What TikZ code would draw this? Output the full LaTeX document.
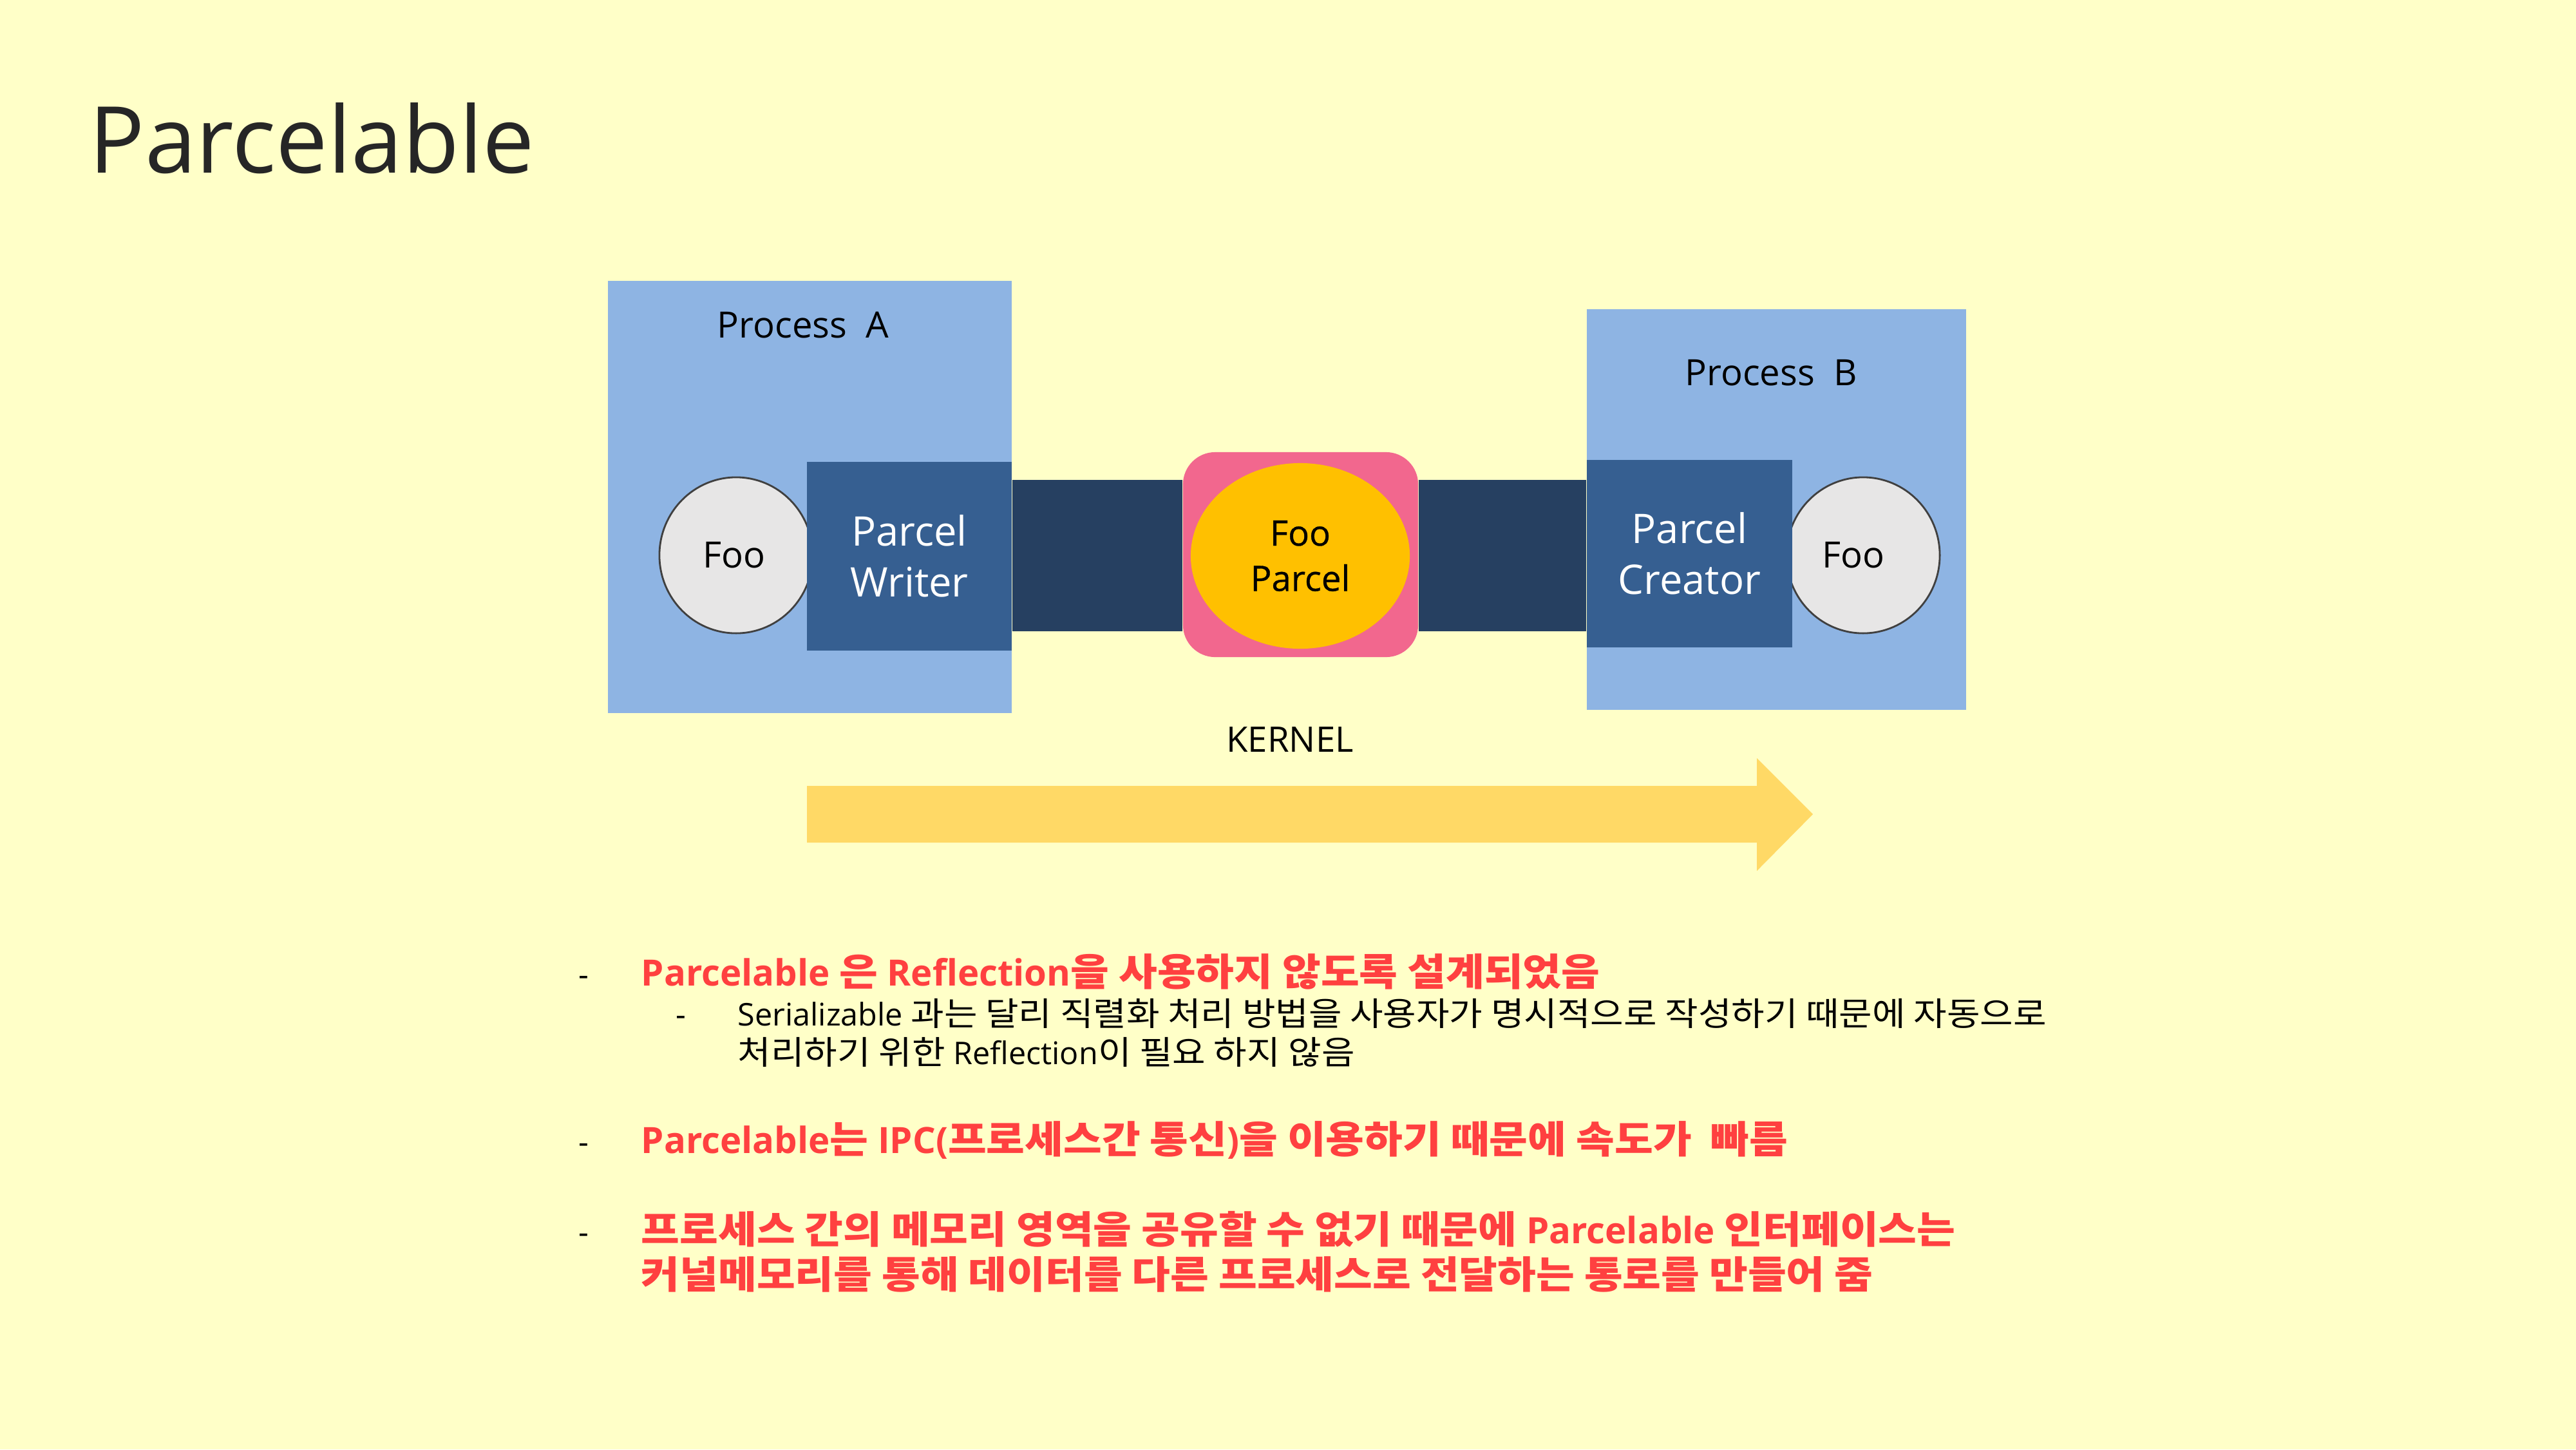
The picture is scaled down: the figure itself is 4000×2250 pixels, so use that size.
\documentclass[tikz,border=0pt]{standalone}
\usepackage{fontspec}
\setmainfont{Open Sans}
\newfontfamily\kr[Scale=1.05,FakeStretch=1.1]{Noto Sans CJK KR}
\newfontfamily\osmed[FakeBold=0.6]{Open Sans}
\usetikzlibrary{positioning}
\definecolor{bgc}{RGB}{255,255,200}
\definecolor{procc}{RGB}{142,180,227}
\definecolor{parcc}{RGB}{54,95,145}
\definecolor{connc}{RGB}{38,64,97}
\definecolor{pinkc}{RGB}{242,103,142}
\definecolor{yelc}{RGB}{255,192,0}
\definecolor{arrc}{RGB}{255,217,102}
\definecolor{fooc}{RGB}{231,230,230}
\definecolor{fooline}{RGB}{64,64,64}
\definecolor{redc}{RGB}{255,64,64}
\definecolor{titlec}{RGB}{38,38,38}
\tikzset{
  procbox/.style={rectangle,fill=procc,inner sep=0pt},
  parcbox/.style={rectangle,fill=parcc,inner sep=0pt,text=white,align=center,font={\fontsize{18}{22.5}\selectfont}},
  fooell/.style={ellipse,fill=fooc,draw=fooline,line width=0.8pt,inner sep=0pt,font={\fontsize{16}{20}\selectfont}},
  lbl/.style={inner sep=0pt,font={\fontsize{16}{20}\selectfont}},
  bar/.style={draw=connc,line width=2.35cm},
  redline/.style={anchor=base west,inner sep=0pt,text=redc,font={\fontsize{16}{20}\bfseries\selectfont}},
  subline/.style={anchor=base west,inner sep=0pt,text=black,font={\fontsize{13.8}{17}\selectfont}},
  bul/.style={anchor=base west,inner sep=0pt,font={\fontsize{14}{17}\selectfont}},
}
\usetikzlibrary{shapes.geometric}
\begin{document}
\begin{tikzpicture}[x=0.01cm,y=-0.01cm]
\fill[bgc] (0,0) rectangle (4000,2250);
\useasboundingbox (0,0) rectangle (4000,2250);
% title
\node[anchor=base west,inner sep=0pt,text=titlec,font={\fontsize{40.8}{48}\selectfont}] (title) at (138,268) {Parcelable};
% process boxes
\node[procbox,minimum width=6.27cm,minimum height=6.71cm] (pa) at (1257.5,771.5) {};
\node[procbox,minimum width=5.89cm,minimum height=6.22cm] (pb) at (2758.5,791) {};
\node[lbl] (pat) at (1247,505) {Process\ \ A};
\node[lbl] (pbt) at (2750,579) {Process\ \ B};
% foo ellipses
\node[fooell,minimum width=2.38cm,minimum height=2.42cm] (fooA) at (1143,862) {};
\node[fooell,minimum width=2.38cm,minimum height=2.42cm] (fooB) at (2893,862) {};
% parcel boxes
\node[parcbox,minimum width=3.18cm,minimum height=2.93cm] (pw) at (1412,863.5) {Parcel\\Writer};
\node[parcbox,minimum width=3.19cm,minimum height=2.91cm] (pc) at (2623.5,859.5) {Parcel\\Creator};
\node[lbl] (fooAt) at (1140,862) {Foo};
\node[lbl] (fooBt) at (2878,862) {Foo};
% pink parcel
\node[rectangle,rounded corners=0.5cm,fill=pinkc,minimum width=3.65cm,minimum height=3.18cm,inner sep=0pt] (pk) at (2019.5,861) {};
\node[ellipse,fill=yelc,minimum width=3.40cm,minimum height=2.88cm,inner sep=0pt,align=center,font={\fontsize{15.5}{20}\osmed}] (fp) at (2019,863) {Foo\\Parcel};
% connectors
\draw[bar] (pw.east |- 0,862.5) -- (pk.west |- 0,862.5);
\draw[bar] (pk.east |- 0,862.5) -- (pc.west |- 0,862.5);
% kernel
\node[lbl,font={\fontsize{15.5}{20}\selectfont}] (kern) at (2003,1148) {KERNEL};
\fill[arrc] (1253,1220) -- (2728,1220) -- (2728,1177) -- (2815,1264) -- (2728,1352) -- (2728,1308) -- (1253,1308) -- cycle;
% bullets
\node[bul] (b1) at (898,1530) {-};
\node[bul] (b2) at (1049,1592) {-};
\node[bul] (b3) at (898,1790) {-};
\node[bul] (b4) at (898,1930) {-};
\node[redline] (l1) at (995,1530) {Parcelable {\kr 은} Reflection{\kr 을 사용하지 않도록 설계되었음}};
\node[subline] (l2) at (1145,1592) {Serializable {\kr 과는 달리 직렬화 처리 방법을 사용자가 명시적으로 작성하기 때문에 자동으로}};
\node[subline] (l3) at (1145,1652) {\relax{\kr 처리하기 위한} Reflection{\kr 이 필요 하지 않음}};
\node[redline] (l4) at (995,1790) {Parcelable{\kr 는} IPC({\kr 프로세스간 통신}){\kr 을 이용하기 때문에 속도가\ \ 빠름}};
\node[redline] (l5) at (995,1930) {\relax{\kr 프로세스 간의 메모리 영역을 공유할 수 없기 때문에} \textbf{Parcelable} {\kr 인터페이스는}};
\node[redline] (l6) at (995,2000) {\relax{\kr 커널메모리를 통해 데이터를 다른 프로세스로 전달하는 통로를 만들어 줌}};
\end{tikzpicture}
\end{document}
